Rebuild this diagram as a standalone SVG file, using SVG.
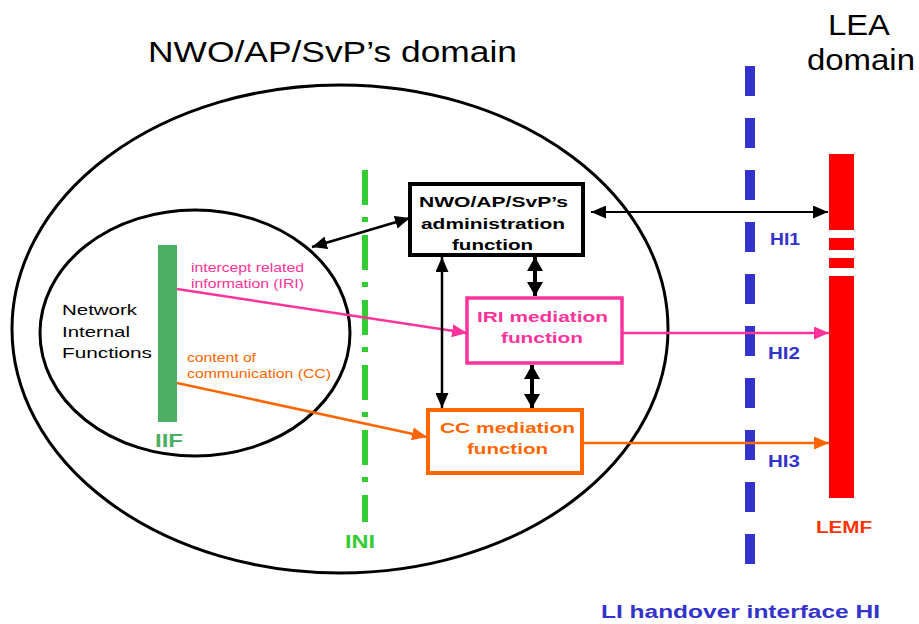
<svg xmlns="http://www.w3.org/2000/svg" width="919" height="624" viewBox="0 0 919 624">
<style>
  .t { font-family: "Liberation Sans", Arial, sans-serif; }
  .b { font-family: "Liberation Sans", Arial, sans-serif; font-weight: bold; }
  .ell { fill: none; stroke: #000; stroke-width: 3; }
</style>
<defs>
  <marker id="ak" markerUnits="userSpaceOnUse" markerWidth="15" markerHeight="13" refX="15" refY="6.5" orient="auto-start-reverse">
    <path d="M0,0 L15,6.5 L0,13 z" fill="#000"/>
  </marker>
  <marker id="akb" markerUnits="userSpaceOnUse" markerWidth="14" markerHeight="16" refX="14" refY="8" orient="auto-start-reverse">
    <path d="M0,0 L14,8 L0,16 z" fill="#000"/>
  </marker>
  <marker id="ap" markerUnits="userSpaceOnUse" markerWidth="15" markerHeight="13" refX="15" refY="6.5" orient="auto">
    <path d="M0,0 L15,6.5 L0,13 z" fill="#FF3399"/>
  </marker>
  <marker id="ao" markerUnits="userSpaceOnUse" markerWidth="15" markerHeight="13" refX="15" refY="6.5" orient="auto">
    <path d="M0,0 L15,6.5 L0,13 z" fill="#FF6600"/>
  </marker>
</defs>
<rect width="919" height="624" fill="#fff"/>

<!-- titles -->
<text class="t" x="148" y="62" font-size="29" textLength="369" lengthAdjust="spacingAndGlyphs">NWO/AP/SvP’s domain</text>
<text class="t" x="828" y="35" font-size="30" textLength="62" lengthAdjust="spacingAndGlyphs">LEA</text>
<text class="t" x="807" y="70" font-size="30" textLength="108" lengthAdjust="spacingAndGlyphs">domain</text>

<!-- domain ellipses -->
<g id="nwo-domain"><ellipse class="ell" cx="340" cy="329" rx="328" ry="244"/></g>
<g id="nif"><ellipse class="ell" cx="195" cy="333" rx="155" ry="123"/>
  <text class="t" font-size="15" x="62" y="315" textLength="75" lengthAdjust="spacingAndGlyphs">Network</text>
  <text class="t" font-size="15" x="62" y="337" textLength="68" lengthAdjust="spacingAndGlyphs">Internal</text>
  <text class="t" font-size="15" x="62" y="358" textLength="90" lengthAdjust="spacingAndGlyphs">Functions</text>
</g>

<!-- IIF -->
<g id="iif">
  <rect x="158" y="245" width="19" height="177" fill="#4CAF63"/>
  <text class="b" x="155" y="447" font-size="19" fill="#4CAF63" textLength="28" lengthAdjust="spacingAndGlyphs">IIF</text>
</g>

<!-- INI line -->
<g id="ini">
  <line x1="365" y1="170" x2="365" y2="522" stroke="#33CC33" stroke-width="6" stroke-dasharray="35 12 5 13"/>
  <text class="b" x="345" y="548" font-size="18" fill="#33CC33" textLength="30" lengthAdjust="spacingAndGlyphs">INI</text>
</g>

<!-- HI line -->
<g id="hi">
  <line x1="750" y1="66" x2="750" y2="566" stroke="#3333CC" stroke-width="10" stroke-dasharray="30 22"/>
  <text class="b" x="770" y="245" font-size="17" fill="#3333CC" textLength="30" lengthAdjust="spacingAndGlyphs">HI1</text>
  <text class="b" x="768" y="359" font-size="17" fill="#3333CC" textLength="32" lengthAdjust="spacingAndGlyphs">HI2</text>
  <text class="b" x="768" y="467" font-size="17" fill="#3333CC" textLength="32" lengthAdjust="spacingAndGlyphs">HI3</text>
  <text class="b" x="601" y="618" font-size="18" fill="#3333CC" textLength="279" lengthAdjust="spacingAndGlyphs">LI handover interface HI</text>
</g>

<!-- LEMF -->
<g id="lemf">
  <rect x="829" y="154" width="25" height="76" fill="#FF0000"/>
  <rect x="829" y="238" width="25" height="12" fill="#FF0000"/>
  <rect x="829" y="258" width="25" height="10" fill="#FF0000"/>
  <rect x="829" y="276" width="25" height="222" fill="#FF0000"/>
  <text class="b" x="816" y="533" font-size="16" fill="#FF3300" textLength="56" lengthAdjust="spacingAndGlyphs">LEMF</text>
</g>

<!-- boxes -->
<g id="admin">
  <rect x="410" y="184" width="173" height="71" fill="#fff" stroke="#000" stroke-width="4"/>
  <text class="b" font-size="15" x="419" y="207" textLength="149" lengthAdjust="spacingAndGlyphs">NWO/AP/SvP’s</text>
  <text class="b" font-size="15" x="421" y="229" textLength="144" lengthAdjust="spacingAndGlyphs">administration</text>
  <text class="b" font-size="15" x="452" y="250" textLength="81" lengthAdjust="spacingAndGlyphs">function</text>
</g>
<g id="iri">
  <rect x="467" y="298" width="155" height="65" fill="#fff" stroke="#FF3399" stroke-width="3.5"/>
  <text class="b" font-size="15" fill="#FF3399" x="477" y="322" textLength="131" lengthAdjust="spacingAndGlyphs">IRI mediation</text>
  <text class="b" font-size="15" fill="#FF3399" x="501" y="343" textLength="82" lengthAdjust="spacingAndGlyphs">function</text>
</g>
<g id="cc">
  <rect x="428" y="410" width="154" height="63" fill="#fff" stroke="#FF6600" stroke-width="4"/>
  <text class="b" font-size="15" fill="#FF6600" x="440" y="433" textLength="135" lengthAdjust="spacingAndGlyphs">CC mediation</text>
  <text class="b" font-size="15" fill="#FF6600" x="467" y="454" textLength="81" lengthAdjust="spacingAndGlyphs">function</text>
</g>

<!-- labels on flows -->
<g id="flow-labels">
  <text class="t" font-size="13" fill="#FF3399" x="191" y="272" textLength="113" lengthAdjust="spacingAndGlyphs">intercept related</text>
  <text class="t" font-size="13" fill="#FF3399" x="191" y="288" textLength="113" lengthAdjust="spacingAndGlyphs">information (IRI)</text>
  <text class="t" font-size="13" fill="#FF6600" x="187" y="362" textLength="69" lengthAdjust="spacingAndGlyphs">content of</text>
  <text class="t" font-size="13" fill="#FF6600" x="187" y="378" textLength="144" lengthAdjust="spacingAndGlyphs">communication (CC)</text>
</g>

<!-- connectors -->
<g id="connectors" fill="none">
  <line x1="177" y1="289" x2="467" y2="333" stroke="#FF3399" stroke-width="2.5" marker-end="url(#ap)"/>
  <line x1="177" y1="383" x2="427" y2="437" stroke="#FF6600" stroke-width="2.5" marker-end="url(#ao)"/>
  <line x1="622" y1="333" x2="829" y2="333" stroke="#FF3399" stroke-width="2.5" marker-end="url(#ap)"/>
  <line x1="582" y1="443" x2="829" y2="443" stroke="#FF6600" stroke-width="2.5" marker-end="url(#ao)"/>
  <line x1="591" y1="212" x2="828" y2="212" stroke="#000" stroke-width="2" marker-start="url(#ak)" marker-end="url(#ak)"/>
  <line x1="312" y1="247" x2="410" y2="218" stroke="#000" stroke-width="2.5" marker-start="url(#ak)" marker-end="url(#ak)"/>
  <line x1="442" y1="257" x2="442" y2="408" stroke="#000" stroke-width="2.5" marker-start="url(#ak)" marker-end="url(#ak)"/>
  <line x1="535" y1="257" x2="535" y2="296" stroke="#000" stroke-width="4" marker-start="url(#akb)" marker-end="url(#akb)"/>
  <line x1="532" y1="365" x2="532" y2="408" stroke="#000" stroke-width="4" marker-start="url(#akb)" marker-end="url(#akb)"/>
</g>
</svg>
